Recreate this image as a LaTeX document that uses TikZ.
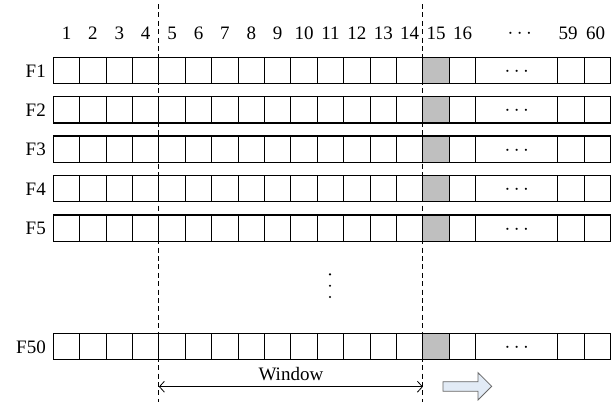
\documentclass[tikz,border=0pt]{standalone}
\usepackage{fontspec}
\setmainfont{Liberation Serif}
\usetikzlibrary{arrows.meta}
\begin{document}
\begin{tikzpicture}[x=1pt,y=-1pt,
  cellrow/.style={draw, line width=1.1pt, minimum height=26.3pt, inner sep=0pt, outer sep=0pt, anchor=north west},
  cellline/.style={line width=1.1pt},
  rowlabel/.style={anchor=east, font=\fontsize{19}{19}\selectfont, inner sep=0pt},
  collabel/.style={anchor=center, font=\fontsize{19}{19}\selectfont, inner sep=0pt},
  dotslabel/.style={inner sep=0pt, font=\fontsize{21}{21}\selectfont},
  winline/.style={dash pattern=on 5pt off 3.4pt, line width=0.9pt},
  hot/.style={fill=black!25}]
\useasboundingbox (0,0) rectangle (612,402);
\def\xo{53.3}
\def\cw{26.4}
\def\xr{610.7}
% column labels
\foreach \i in {1,...,16}{
  \node[collabel] (c\i) at ({\xo+(\i-0.5)*\cw},33.5) {\i};
}
\node[collabel, font=\fontsize{21}{21}\selectfont] (cdots) at ({(\xo+16*\cw+\xr-2*\cw)/2+3},33.5) {$\cdots$};
\node[collabel] (c59) at ({\xr-1.5*\cw-3},33.5) {59};
\node[collabel] (c60) at ({\xr-0.5*\cw-2},33.5) {60};
% rows
\foreach \lab/\top in {F1/57.3, F2/96.7, F3/136, F4/175.5, F5/215, F50/333.3}{
  \fill[hot] ({\xo+14*\cw},\top) rectangle ({\xo+15*\cw},\top+26.3);
  \node[cellrow, minimum width={\xr-\xo}] (r\lab) at (\xo,\top) {};
  \foreach \k in {1,...,16}{
    \draw[cellline] ({\xo+\k*\cw},\top) -- ({\xo+\k*\cw},\top+26.3);
  }
  \draw[cellline] ({\xr-2*\cw},\top) -- ({\xr-2*\cw},\top+26.3);
  \draw[cellline] ({\xr-\cw},\top) -- ({\xr-\cw},\top+26.3);
  \node[dotslabel] (d\lab) at ({(\xo+16*\cw+\xr-2*\cw)/2},\top+14.5) {$\cdots$};
  \node[rowlabel] (l\lab) at (46,\top+13.5) {\lab};
}
% vertical dots
\foreach \yy in {274.3,285.7,297}{
  \fill (330,\yy) circle (1.2pt);
}
% window lines
\coordinate (wa1) at ({\xo+4*\cw},4);
\coordinate (wa2) at ({\xo+4*\cw},402);
\coordinate (wb1) at ({\xo+14*\cw},4);
\coordinate (wb2) at ({\xo+14*\cw},402);
\draw[winline] (wa1) -- (wa2);
\draw[winline] (wb1) -- (wb2);
% window arrow
\coordinate (aw1) at ({\xo+4*\cw},386.7);
\coordinate (aw2) at ({\xo+14*\cw},386.7);
\draw[line width=0.8pt, {Straight Barb[length=5pt,width=11pt]}-{Straight Barb[length=5pt,width=11pt]}] (aw1) -- (aw2);
\node[font=\fontsize{19}{19}\selectfont, inner sep=0pt] (win) at ({\xo+9*\cw},374) {Window};
% moving arrow
\draw[fill={rgb,255:red,226;green,235;blue,246}, draw=black!60, line width=0.8pt]
  (443,381.7) -- (478,381.7) -- (478,372.7) -- (491.7,386.3) -- (478,400) -- (478,391.2) -- (443,391.2) -- cycle;
\end{tikzpicture}
\end{document}
